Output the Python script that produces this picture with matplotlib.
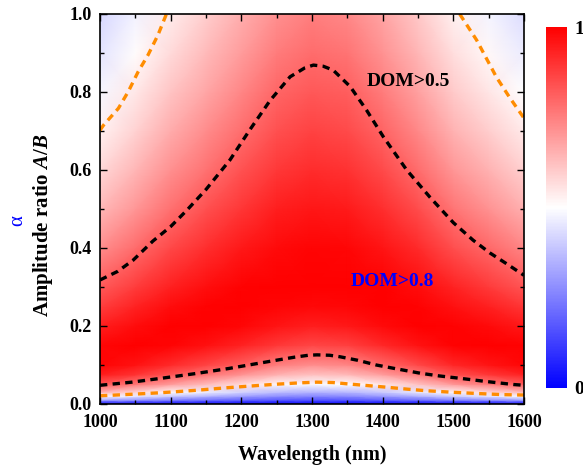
import numpy as np
import matplotlib
matplotlib.use("Agg")
import matplotlib.pyplot as plt

plt.rcParams['font.family'] = ['Liberation Serif', 'DejaVu Serif']
plt.rcParams['font.weight'] = 'bold'
plt.rcParams['mathtext.fontset'] = 'custom'
plt.rcParams['mathtext.rm'] = 'Liberation Serif:bold'
plt.rcParams['mathtext.it'] = 'Liberation Serif:italic:bold'

# DOM map (rows: amplitude ratio, cols: wavelength)
wavelength = [1000, 1050, 1100, 1150, 1200, 1250, 1300, 1350, 1400, 1450, 1500, 1550, 1600]
ratio = [0, 0.01, 0.02, 0.03, 0.05, 0.075, 0.1, 0.15, 0.2, 0.25, 0.3,
         0.4, 0.5, 0.6, 0.7, 0.8, 0.9, 1.0]
dom = [
    [0.000, 0.000, 0.000, 0.000, 0.000, 0.000, 0.000, 0.000, 0.000, 0.000, 0.000, 0.000, 0.000],
    [0.326, 0.286, 0.248, 0.220, 0.195, 0.173, 0.162, 0.168, 0.188, 0.215, 0.253, 0.282, 0.315],
    [0.511, 0.454, 0.397, 0.354, 0.315, 0.280, 0.264, 0.272, 0.304, 0.346, 0.404, 0.449, 0.496],
    [0.648, 0.582, 0.514, 0.461, 0.413, 0.369, 0.348, 0.359, 0.398, 0.452, 0.523, 0.576, 0.631],
    [0.828, 0.763, 0.689, 0.627, 0.567, 0.513, 0.486, 0.500, 0.550, 0.616, 0.699, 0.756, 0.815],
    [0.944, 0.895, 0.831, 0.772, 0.710, 0.650, 0.619, 0.635, 0.691, 0.761, 0.840, 0.890, 0.933],
    [0.991, 0.964, 0.917, 0.867, 0.814, 0.752, 0.721, 0.737, 0.794, 0.858, 0.924, 0.960, 0.986],
    [0.988, 1.000, 0.992, 0.968, 0.933, 0.887, 0.860, 0.873, 0.919, 0.963, 0.994, 1.000, 0.993],
    [0.938, 0.975, 0.997, 0.999, 0.986, 0.958, 0.940, 0.950, 0.978, 0.998, 0.995, 0.978, 0.950],
    [0.878, 0.930, 0.973, 0.994, 1.000, 0.991, 0.981, 0.987, 0.999, 0.996, 0.968, 0.935, 0.893],
    [0.821, 0.880, 0.937, 0.971, 0.993, 1.000, 0.998, 0.999, 0.997, 0.976, 0.930, 0.886, 0.835],
    [0.719, 0.787, 0.856, 0.907, 0.950, 0.980, 0.990, 0.985, 0.960, 0.915, 0.847, 0.793, 0.737],
    [0.640, 0.707, 0.781, 0.840, 0.893, 0.938, 0.957, 0.947, 0.907, 0.849, 0.771, 0.714, 0.656],
    [0.576, 0.643, 0.716, 0.777, 0.836, 0.890, 0.913, 0.901, 0.853, 0.789, 0.706, 0.649, 0.593],
    [0.526, 0.588, 0.661, 0.723, 0.784, 0.842, 0.869, 0.855, 0.803, 0.734, 0.651, 0.595, 0.541],
    [0.484, 0.544, 0.614, 0.675, 0.737, 0.797, 0.826, 0.813, 0.756, 0.686, 0.604, 0.550, 0.498],
    [0.449, 0.506, 0.573, 0.634, 0.695, 0.756, 0.786, 0.771, 0.713, 0.644, 0.563, 0.512, 0.463],
    [0.420, 0.474, 0.539, 0.597, 0.657, 0.718, 0.750, 0.733, 0.676, 0.607, 0.529, 0.480, 0.433],
]

# contour lines
black_upper_wl = [1000, 1025, 1047, 1075, 1100, 1123, 1150, 1184, 1212, 1241, 1269,
                  1290, 1302, 1316, 1330, 1354, 1377, 1401, 1434, 1467, 1500,
                  1528, 1552, 1575, 1600]
black_upper_r = [0.318, 0.34, 0.369, 0.418, 0.455, 0.497, 0.55, 0.626, 0.703, 0.779,
                 0.839, 0.862, 0.869, 0.866, 0.856, 0.814, 0.754, 0.685, 0.6, 0.53,
                 0.465, 0.42, 0.387, 0.36, 0.33]
black_lower_wl = [1000, 1045, 1087, 1135, 1182, 1220, 1252, 1275, 1295, 1307, 1325,
                  1340, 1365, 1391, 1420, 1453, 1480, 1509, 1545, 1585, 1600]
black_lower_r = [0.048, 0.056, 0.066, 0.078, 0.091, 0.103, 0.113, 0.12, 0.125, 0.126,
                 0.125, 0.121, 0.112, 0.1, 0.09, 0.079, 0.072, 0.066, 0.058, 0.05,
                 0.048]
orange_left_wl = [1000, 1005, 1026, 1040, 1054, 1068, 1082, 1094]
orange_left_r = [0.702, 0.715, 0.758, 0.801, 0.852, 0.895, 0.946, 1.0]
orange_right_wl = [1509, 1533, 1561, 1580, 1600]
orange_right_r = [1.0, 0.933, 0.838, 0.785, 0.733]
orange_lower_wl = [1000, 1045, 1087, 1135, 1182, 1220, 1252, 1280, 1307, 1330,
                   1354, 1380, 1406, 1435, 1462, 1500, 1533, 1570, 1600]
orange_lower_r = [0.021, 0.025, 0.029, 0.035, 0.042, 0.047, 0.051, 0.054, 0.056,
                  0.055, 0.051, 0.047, 0.043, 0.038, 0.034, 0.03, 0.027, 0.024,
                  0.023]

fig = plt.figure(figsize=(5.83, 4.67), dpi=100)
ax = fig.add_axes([100 / 583, 63 / 467, 424 / 583, 390 / 467])
cax = fig.add_axes([546 / 583, 79 / 467, 21 / 583, 361 / 467])

mesh = ax.pcolormesh(wavelength, ratio, np.array(dom), cmap='bwr', vmin=0, vmax=1,
                     shading='gouraud')

orange = '#FF8C00'
ls = (0, (2.2, 1.6))
ax.plot(black_upper_wl, black_upper_r, color='black', lw=2.4, ls=ls)
ax.plot(black_lower_wl, black_lower_r, color='black', lw=2.4, ls=ls)
ax.plot(orange_left_wl, orange_left_r, color=orange, lw=2.4, ls=ls)
ax.plot(orange_right_wl, orange_right_r, color=orange, lw=2.4, ls=ls)
ax.plot(orange_lower_wl, orange_lower_r, color=orange, lw=2.4, ls=ls)

ax.text(1436, 0.826, 'DOM>0.5', ha='center', va='center', fontsize=14,
        fontweight='bold', color='black')
ax.text(1413, 0.315, 'DOM>0.8', ha='center', va='center', fontsize=14,
        fontweight='bold', color='blue')

ax.set_xlim(1000, 1600)
ax.set_ylim(0, 1.0)
ax.set_xticks([1000, 1100, 1200, 1300, 1400, 1500, 1600])
ax.set_xticks(np.arange(1050, 1600, 100), minor=True)
ax.set_yticks([0, 0.2, 0.4, 0.6, 0.8, 1.0])
ax.set_yticks([0.1, 0.3, 0.5, 0.7, 0.9], minor=True)
ax.set_yticklabels(['0.0', '0.2', '0.4', '0.6', '0.8', '1.0'])
ax.tick_params(which='both', direction='in', top=True, right=True, labelsize=13,
               width=1.0)
ax.tick_params(which='major', length=5)
ax.tick_params(which='minor', length=3)
ax.tick_params(axis='x', pad=7.5)
ax.tick_params(axis='y', pad=6)
for s in ax.spines.values():
    s.set_linewidth(1.2)

ax.set_xlabel('Wavelength (nm)', fontsize=14.5, fontweight='bold', labelpad=10)
ax.set_ylabel('Amplitude ratio $A/B$', fontsize=15, fontweight='bold')
ax.yaxis.set_label_coords(-0.106, 0.459)
fig.text(18 / 583, 1 - 221 / 467, 'α', color='blue', fontsize=15,
         fontweight='normal', rotation=90, ha='center', va='center')

cb = fig.colorbar(mesh, cax=cax, ticks=[0, 1])
cb.outline.set_visible(False)
cb.ax.tick_params(length=0, labelsize=14, pad=5)
cb.ax.set_yticklabels(['0', '1'])

fig.savefig('out.png', dpi=100)
